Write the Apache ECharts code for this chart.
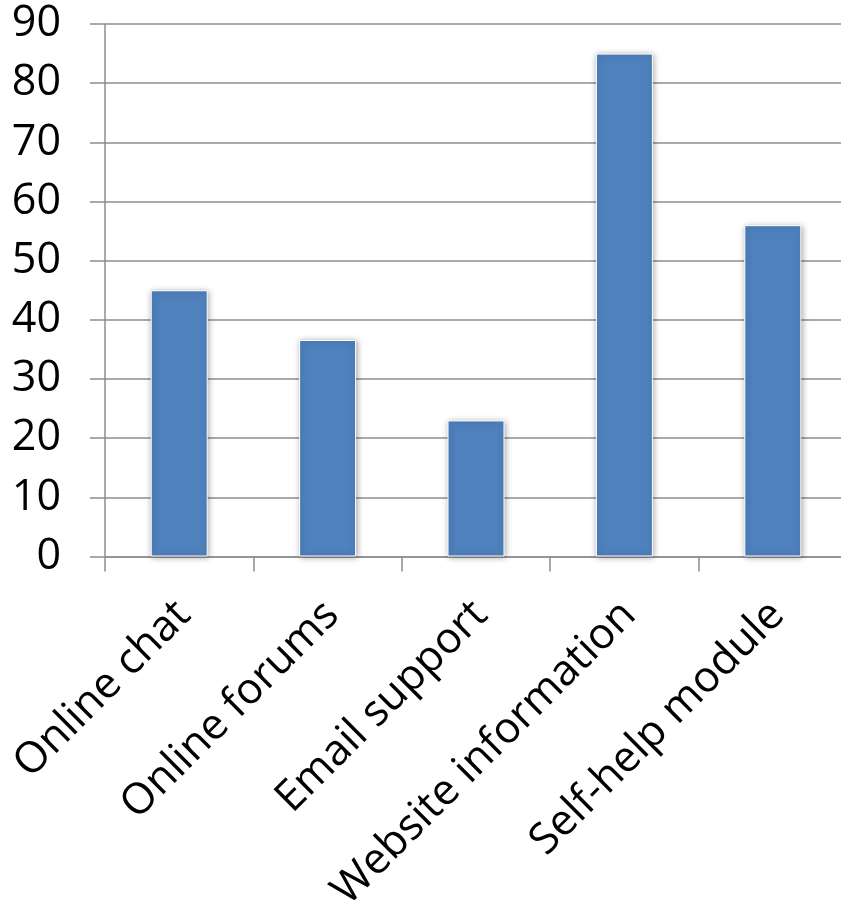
<!DOCTYPE html>
<html>
<head>
<meta charset="utf-8">
<script src="https://cdn.jsdelivr.net/npm/echarts@6/dist/echarts.min.js"></script>
<style>
  html, body { margin: 0; padding: 0; background: #ffffff; }
  #chart { width: 841px; height: 900px; }
</style>
</head>
<body>
<div id="chart"></div>
<script>
// Support channels and their scores
const categories = ['Online chat', 'Online forums', 'Email support', 'Website information', 'Self-help module'];
const values = [45, 36.6, 23, 85, 56];
const yTicks = { min: 0, max: 90, interval: 10 };

const FONT = '"Open Sans", sans-serif';
const AXIS_GREY = '#8e8e8e';

const chart = echarts.init(document.getElementById('chart'), null, { renderer: 'canvas' });

chart.setOption({
  animation: false,
  backgroundColor: '#ffffff',
  grid: {
    left: 105, top: 24, right: -6, bottom: 343.5,
    containLabel: false,
    outerBoundsMode: 'none'
  },
  xAxis: {
    type: 'category',
    data: categories,
    boundaryGap: true,
    axisLine: { show: true, lineStyle: { color: AXIS_GREY, width: 1.5 } },
    axisTick: { show: true, length: 15, alignWithLabel: false, lineStyle: { color: AXIS_GREY, width: 1.5 } },
    axisLabel: {
      interval: 0,
      rotate: 45,
      margin: 26,
      align: 'right',
      verticalAlign: 'top',
      padding: [0, 15, 0, 0],
      color: '#000000',
      fontFamily: FONT,
      fontSize: 43
    }
  },
  yAxis: {
    type: 'value',
    min: yTicks.min,
    max: yTicks.max,
    interval: yTicks.interval,
    axisLine: { show: true, lineStyle: { color: AXIS_GREY, width: 1.5 } },
    axisTick: { show: true, length: 15, lineStyle: { color: AXIS_GREY, width: 1.5 } },
    splitLine: { show: true, lineStyle: { color: AXIS_GREY, width: 1.5 } },
    axisLabel: {
      margin: 44,
      color: '#000000',
      fontFamily: FONT,
      fontSize: 43
    }
  },
  series: [{
    type: 'bar',
    data: values,
    barWidth: '38.4%',
    itemStyle: {
      color: '#4f81bd',
      borderColor: '#ffffff',
      borderWidth: 1,
      shadowColor: 'rgba(0,0,0,0.35)',
      shadowBlur: 6,
      shadowOffsetX: 1,
      shadowOffsetY: 1
    }
  }]
});
</script>
</body>
</html>
